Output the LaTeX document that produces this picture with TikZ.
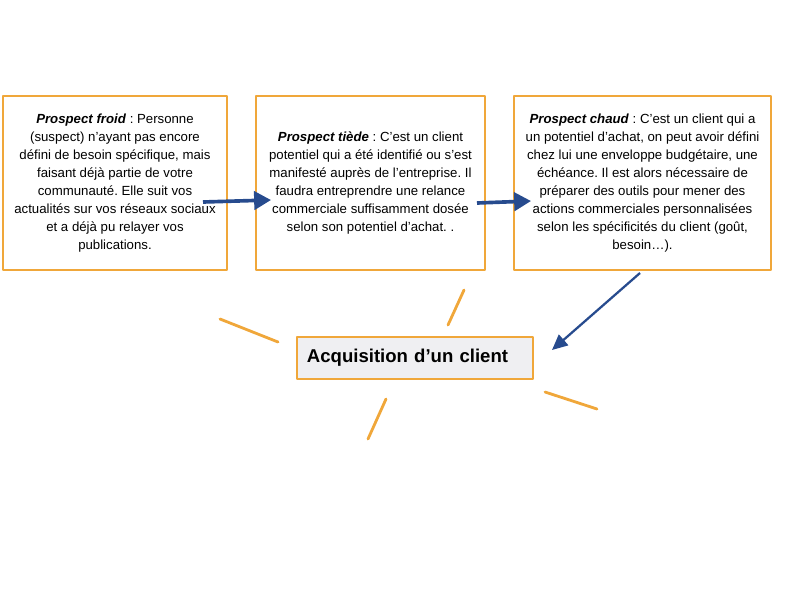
\documentclass[tikz,border=0pt]{standalone}
\usepackage{fontspec}
\setmainfont{Liberation Sans}
\usetikzlibrary{arrows.meta}
\frenchspacing

\definecolor{orangecadre}{HTML}{F0A73A}
\definecolor{bleufleche}{HTML}{274B8E}
\definecolor{grisfond}{HTML}{EFEFF2}

\begin{document}
\begin{tikzpicture}[x=0.025cm, y=-0.025cm, line cap=round, line join=round,
  cadre/.style={draw=orangecadre, line width=1.4pt, align=center, inner sep=0pt,
    font=\fontsize{9.4}{12.8}\selectfont},
  fleche/.style={draw=bleufleche, line width=2.6pt, line cap=butt,
    -{Triangle[length=12pt, width=13pt]}},
  rayon/.style={draw=orangecadre, line width=2pt}]

\useasboundingbox (0,0) rectangle (800,600);

% Les trois types de prospects
\node[cadre, minimum width=5.6cm, minimum height=4.35cm] (froid) at (115,183)
  {\textbf{\textit{Prospect froid}} : Personne\\
   (suspect) n’ayant pas encore\\
   défini de besoin spécifique, mais\\
   faisant déjà partie de votre\\
   communauté. Elle suit vos\\
   actualités sur vos réseaux sociaux\\
   et a déjà pu relayer vos\\
   publications.};

\node[cadre, minimum width=5.725cm, minimum height=4.35cm] (tiede) at (370.5,183)
  {\textbf{\textit{Prospect tiède}} : C’est un client\\
   potentiel qui a été identifié ou s’est\\
   manifesté auprès de l’entreprise. Il\\
   faudra entreprendre une relance\\
   commerciale suffisamment dosée\\
   selon son potentiel d’achat. .};

\node[cadre, minimum width=6.425cm, minimum height=4.35cm] (chaud) at (642.5,183)
  {\textbf{\textit{Prospect chaud}} : C’est un client qui a\\
   un potentiel d’achat, on peut avoir défini\\
   chez lui une enveloppe budgétaire, une\\
   échéance. Il est alors nécessaire de\\
   préparer des outils pour mener des\\
   actions commerciales personnalisées\\
   selon les spécificités du client (goût,\\
   besoin…).};

% Le but
\node[draw=orangecadre, fill=grisfond, line width=1.4pt, minimum width=5.9cm,
  minimum height=1.05cm, text width=5.4cm, align=left,
  font=\fontsize{13.2}{15}\selectfont\bfseries] (acq) at (415,358)
  {Acquisition d’un client};

% Extrémités des flèches
\coordinate (f1) at (203,202);
\coordinate (t1) at (271,200);
\coordinate (f2) at (477,203);
\coordinate (t2) at (531,201);
\coordinate (f3) at (640,273);
\coordinate (t3) at (552,350);

\draw[fleche] (f1) -- (t1);
\draw[fleche] (f2) -- (t2);
\draw[fleche, line width=1.6pt, -{Triangle[length=11pt, width=10pt]}] (f3) -- (t3);

% Rayons autour du but
\draw[rayon] (220,319) -- (278,342);
\draw[rayon] (464,290) -- (448,325);
\draw[rayon] (386,399) -- (368,439);
\draw[rayon] (545,392) -- (597,409);

\end{tikzpicture}
\end{document}
